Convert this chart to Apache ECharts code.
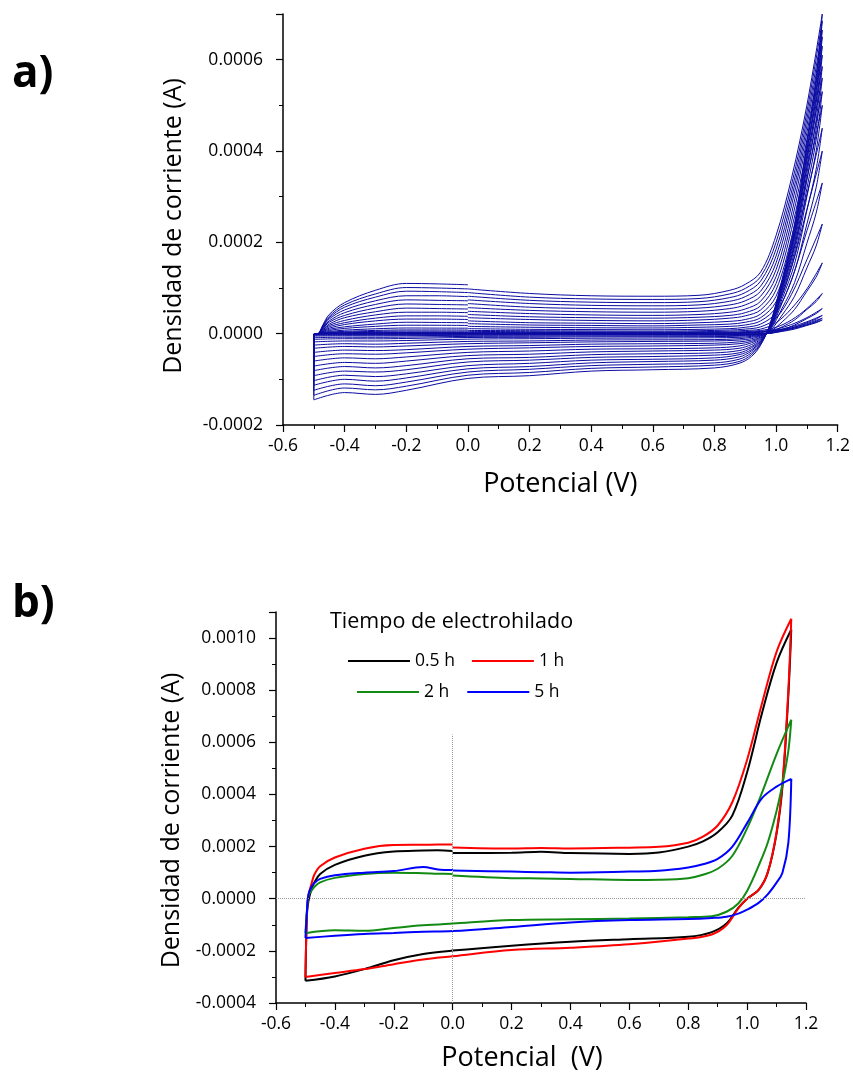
<!DOCTYPE html>
<html>
<head>
<meta charset="utf-8">
<script src="https://cdn.jsdelivr.net/npm/echarts@6.0.0/dist/echarts.min.js"></script>
<style>
  html, body { margin: 0; padding: 0; background: #fff; }
  #chart { width: 853px; height: 1073px; }
</style>
</head>
<body>
<div id="chart"></div>
<script>
// currents below are stored in microamps, the axes show amps
const UA = 1e-6;

// ---- a) consecutive cycles, each scan starts at 0 V ----
const aFwdX = [0, 0.2, 0.4, 0.6, 0.75, 0.85, 0.9, 0.95, 1.0, 1.05, 1.1, 1.15];
const aRevX = [1.15, 1.13, 1.1, 1.06, 1.02, 0.98, 0.95, 0.92, 0.88, 0.8, 0.6, 0.4, 0.2, 0, -0.2, -0.3, -0.4, -0.5];
const aLeftX = [-0.5, -0.499, -0.485, -0.47, -0.45, -0.4, -0.3, -0.2, -0.1, 0];

const aFwd = [
  [0.4, 0.3, 0.3, 0.2, 0.4, 0.7, 1.2, 2.5, 6, 11, 19, 30],
  [0.8, 0.6, 0.6, 0.5, 0.7, 1, 1.5, 3, 7, 13, 22, 34],
  [1.2, 1, 1, 0.8, 1, 1.5, 2, 4, 8, 15, 26, 40],
  [2, 1.6, 1.5, 1.3, 1.6, 2.2, 3, 5, 10, 20, 35, 55],
  [3, 2.7, 2.5, 2.3, 2.7, 3.5, 4.5, 7, 14, 30, 55, 88],
  [5, 4.3, 4, 3.7, 4.3, 5.5, 7, 10, 24, 55, 98, 155],
  [7, 6.5, 6, 5.5, 6.5, 8, 10, 15, 34, 86, 162, 240],
  [11, 9.5, 9, 8.5, 9.5, 11, 14, 21, 46, 118, 225, 330],
  [16, 14, 13, 12.5, 14, 16, 19, 28, 58, 145, 272, 400],
  [22, 19, 18, 17, 19, 21, 25, 35, 70, 168, 305, 450],
  [28, 24, 23, 22, 24, 27, 31, 43, 82, 190, 340, 500],
  [35, 31, 29, 28, 30, 34, 39, 52, 96, 210, 362, 530],
  [42, 37, 35, 34, 36, 40, 46, 61, 110, 228, 385, 560],
  [49, 44, 41, 40, 42, 47, 54, 71, 125, 245, 405, 585],
  [57, 51, 48, 47, 49, 55, 63, 82, 140, 262, 425, 610],
  [66, 58, 55, 54, 56, 63, 72, 93, 155, 280, 440, 630],
  [74, 66, 62, 61, 63, 71, 81, 104, 170, 295, 455, 650],
  [82, 73, 69, 68, 70, 79, 90, 115, 185, 310, 470, 665],
  [90, 80, 76, 75, 77, 87, 99, 125, 200, 325, 485, 685],
  [98, 88, 83, 82, 84, 95, 108, 135, 215, 340, 500, 700]
];

const aRev = [
  [30, 24, 18, 10, 5, 0.6, -0.2, -0.3, -0.4, -0.45, -0.5, -0.5, -0.55, -0.6, -0.75, -0.8, -0.8, -0.9],
  [34, 27, 20, 12, 6, 0.8, -0.3, -0.6, -0.8, -0.9, -1, -1, -1.1, -1.2, -1.5, -1.6, -1.6, -1.8],
  [40, 32, 24, 14, 7, 1, -0.6, -1.2, -1.6, -1.8, -1.9, -2, -2.2, -2.4, -3, -3.2, -3.1, -3.5],
  [55, 44, 33, 19, 9, 1.5, -1, -1.8, -2.4, -2.7, -2.9, -3, -3.4, -3.6, -4.5, -4.9, -4.7, -5.3],
  [88, 70, 53, 30, 15, 2.5, -1.5, -3, -4, -4.5, -4.8, -5, -5.6, -6, -7.5, -8, -7.8, -8.8],
  [155, 124, 93, 53, 26, 4, -2, -4, -5.5, -6.4, -6.7, -7, -8, -8.4, -10.5, -11.3, -11, -12.4],
  [240, 192, 144, 82, 41, 6, -3, -6, -8, -9, -9.5, -10, -11, -12, -15, -16, -16, -18],
  [330, 264, 198, 112, 56, 8, -4, -8, -11, -13, -13.5, -14, -16, -17, -21, -23, -22, -25],
  [400, 320, 240, 136, 68, 9, -5, -11, -14, -16, -17, -18, -20, -22, -27, -29, -28, -32],
  [450, 360, 270, 153, 77, 10, -7, -14, -18, -21, -22, -23, -26, -28, -35, -37, -36, -41],
  [500, 400, 300, 170, 85, 11, -8, -17, -22, -25, -27, -28, -31, -34, -42, -45, -44, -50],
  [530, 424, 318, 180, 90, 12, -10, -20, -27, -31, -33, -34, -38, -41, -51, -55, -53, -60],
  [560, 448, 336, 190, 95, 13, -12, -24, -32, -36, -38, -40, -45, -48, -60, -65, -63, -71],
  [585, 468, 351, 199, 99, 14, -14, -28, -37, -42, -44, -46, -52, -55, -70, -75, -72, -81],
  [610, 488, 366, 207, 104, 15, -16, -31, -42, -47, -50, -52, -58, -62, -79, -84, -82, -92],
  [630, 504, 378, 214, 107, 16, -17, -35, -46, -53, -56, -58, -65, -70, -88, -94, -91, -103],
  [650, 520, 390, 221, 110, 17, -19, -38, -51, -58, -61, -64, -72, -77, -97, -104, -100, -113],
  [665, 532, 399, 226, 113, 18, -21, -42, -56, -64, -67, -70, -78, -84, -106, -114, -110, -124],
  [685, 548, 411, 233, 116, 19, -23, -46, -61, -69, -73, -76, -85, -91, -115, -123, -119, -135],
  [700, 560, 420, 240, 120, 20, -25, -50, -65, -75, -79, -82, -92, -98, -124, -133, -129, -145]
];

const aLeft = [
  [-0.9, -0.1, 0, 0.1, 0.2, 0.3, 0.45, 0.5, 0.5, 0.5],
  [-1.8, -0.2, 0, 0.2, 0.35, 0.6, 0.8, 0.9, 0.9, 0.9],
  [-3.5, -0.3, 0, 0.25, 0.5, 0.8, 1.2, 1.3, 1.3, 1.3],
  [-5.3, -0.4, 0, 0.4, 0.9, 1.4, 2, 2.3, 2.2, 2.2],
  [-8.8, -0.5, 0, 0.6, 1.3, 2.1, 2.9, 3.4, 3.4, 3.3],
  [-12.4, -0.6, 0, 1, 2.1, 3.5, 4.9, 5.7, 5.6, 5.5],
  [-18, -0.8, 0, 1.5, 3.1, 5.1, 7.1, 8.2, 8.2, 8],
  [-25, -1, 0, 2.3, 4.7, 7.7, 10.7, 12.4, 12.2, 12],
  [-32, -1, 0, 3.4, 7, 11.5, 16, 18.5, 18.4, 18],
  [-41, -1.5, 0, 4.6, 9.4, 15, 21, 25, 24.5, 24],
  [-50, -1.5, 0, 6, 12, 20, 28, 32, 32, 31],
  [-60, -2, 0, 7, 15, 24, 34, 39, 39, 38],
  [-71, -2, 0, 9, 18, 29, 41, 47, 47, 46],
  [-81, -2.5, 0, 10, 21, 35, 48, 56, 55, 54],
  [-92, -2.5, 0, 12, 25, 40, 56, 65, 64, 63],
  [-103, -3, 0, 14, 28, 46, 64, 74, 73, 72],
  [-113, -3, 0, 15, 32, 52, 72, 83, 83, 81],
  [-124, -3.5, 0, 17, 35, 58, 80, 93, 92, 90],
  [-135, -4, 0, 18, 38, 63, 87, 101, 100, 98],
  [-145, -4, 0, 20, 42, 68, 95, 110, 109, 107]
];

// ---- b) one cycle per electrospinning time ----
const bNames = ['0.5 h', '1 h', '2 h', '5 h'];
const bColors = ['#000000', '#ff0000', '#138a13', '#0000ff'];
const bFwdX = [0, 0.2, 0.3, 0.4, 0.6, 0.7, 0.8, 0.85, 0.9, 0.95, 1.0, 1.05, 1.1, 1.15];
const bRevX = [1.15, 1.14, 1.12, 1.1, 1.07, 1.04, 1.0, 0.97, 0.93, 0.88, 0.8, 0.6, 0.4, 0.2, 0, -0.1, -0.2, -0.3, -0.4, -0.5];
const bLeftX = [-0.5, -0.495, -0.49, -0.48, -0.47, -0.45, -0.4, -0.3, -0.2, -0.1, -0.05, 0];

const bFwd = [
  [175, 176, 180, 175, 172, 177, 200, 220, 255, 320, 485, 710, 905, 1033],
  [197, 193, 195, 193, 196, 199, 215, 238, 281, 371, 533, 747, 947, 1074],
  [89, 79, 78, 76, 72, 73, 79, 92, 115, 165, 270, 405, 555, 687],
  [108, 104, 102, 100, 104, 107, 120, 132, 153, 200, 290, 385, 430, 460]
];
const bRev = [
  [1033, 780, 430, 250, 100, 35, 0, -35, -95, -128, -146, -155, -165, -180, -199, -212, -236, -270, -298, -315],
  [1074, 800, 440, 255, 100, 35, 0, -37, -102, -137, -153, -175, -188, -197, -221, -233, -251, -270, -285, -300],
  [687, 567, 440, 337, 215, 129, 30, -18, -50, -67, -71, -76, -79, -82, -95, -102, -112, -123, -121, -132],
  [460, 214, 100, 62, 17, -15, -42, -57, -69, -74, -78, -82, -91, -108, -124, -127, -131, -135, -142, -151]
];
const bLeft = [
  [-315, -60, -10, 35, 62, 95, 130, 165, 181, 185, 186, 183],
  [-300, -60, 12, 55, 92, 125, 158, 192, 206, 207, 208, 208],
  [-132, -45, 10, 30, 45, 63, 80, 95, 100, 98, 96, 95],
  [-151, -50, 15, 45, 60, 76, 90, 100, 106, 122, 112, 110]
];

const FONT = "'Open Sans', sans-serif";

// forward part, reverse part, then the return to 0 V; breaks at the turning points
function loop(fwdX, fwd, revX, rev, leftX, left) {
  const pts = fwdX.map((x, i) => [x, fwd[i] * UA]);
  pts.push([fwdX[fwdX.length - 1], '-']);
  revX.forEach((x, i) => pts.push([x, rev[i] * UA]));
  pts.push([revX[revX.length - 1], '-']);
  leftX.forEach((x, i) => pts.push([x, left[i] * UA]));
  return pts;
}

function axisBase(idx) {
  return {
    gridIndex: idx,
    type: 'value',
    axisLine: { show: true, onZero: false, lineStyle: { color: '#000', width: 1.5 } },
    axisTick: { show: true, length: 7, lineStyle: { color: '#000', width: 1.2 } },
    minorTick: { show: true, splitNumber: 2, length: 4, lineStyle: { color: '#000', width: 1 } },
    splitLine: { show: false },
    minorSplitLine: { show: false },
    nameLocation: 'middle'
  };
}

const series = [];
aFwd.forEach((f, k) => {
  series.push({
    type: 'line',
    xAxisIndex: 0,
    yAxisIndex: 0,
    data: loop(aFwdX, f, aRevX, aRev[k], aLeftX, aLeft[k]),
    showSymbol: false,
    symbol: 'none',
    smooth: 0.35,
    silent: true,
    lineStyle: { color: '#0b0ba2', width: 1 }
  });
});

bNames.forEach((name, i) => {
  const s = {
    name: name,
    type: 'line',
    xAxisIndex: 1,
    yAxisIndex: 1,
    data: loop(bFwdX, bFwd[i], bRevX, bRev[i], bLeftX, bLeft[i]),
    showSymbol: false,
    symbol: 'none',
    smooth: 0.35,
    silent: true,
    itemStyle: { color: bColors[i] },
    lineStyle: { color: bColors[i], width: 2 }
  };
  if (i === 0) {
    s.markLine = {
      silent: true,
      symbol: 'none',
      label: { show: false },
      lineStyle: { type: 'dotted', color: '#9a9a9a', width: 1 },
      data: [
        { yAxis: 0 },
        [{ coord: [0, -0.0004] }, { coord: [0, 0.00063] }]
      ]
    };
  }
  series.push(s);
});

const chart = echarts.init(document.getElementById('chart'));
chart.setOption({
  animation: false,
  backgroundColor: '#fff',
  title: [
    { text: 'a)', left: 12, top: 52, padding: 0,
      textStyle: { fontFamily: FONT, fontSize: 44, fontWeight: 'bold', color: '#000' } },
    { text: 'b)', left: 12, top: 582, padding: 0,
      textStyle: { fontFamily: FONT, fontSize: 44, fontWeight: 'bold', color: '#000' } },
    { text: 'Tiempo de electrohilado', left: 330, top: 611, padding: 0,
      textStyle: { fontFamily: FONT, fontSize: 21.5, fontWeight: 'normal', color: '#000' } }
  ],
  legend: [
    { data: ['0.5 h', '1 h'], left: 348, top: 652, icon: 'rect', itemWidth: 62, itemHeight: 2,
      itemGap: 17, padding: 0, selectedMode: false,
      textStyle: { fontFamily: FONT, fontSize: 17.5, color: '#000' } },
    { data: ['2 h', '5 h'], left: 357, top: 683, icon: 'rect', itemWidth: 62, itemHeight: 2,
      itemGap: 18, padding: 0, selectedMode: false,
      textStyle: { fontFamily: FONT, fontSize: 17.5, color: '#000' } }
  ],
  grid: [
    { left: 283, top: 14, width: 555, height: 411 },
    { left: 276, top: 612, width: 530, height: 394 }
  ],
  xAxis: [
    Object.assign(axisBase(0), {
      min: -0.6, max: 1.2, interval: 0.2,
      name: 'Potencial (V)', nameGap: 46,
      nameTextStyle: { fontFamily: FONT, fontSize: 27, color: '#000' },
      axisLabel: { color: '#000', fontFamily: FONT, fontSize: 17.5, margin: 12,
        formatter: v => v.toFixed(1) }
    }),
    Object.assign(axisBase(1), {
      min: -0.6, max: 1.2, interval: 0.2,
      name: 'Potencial  (V)', nameGap: 42,
      nameTextStyle: { fontFamily: FONT, fontSize: 27, color: '#000', padding: [0, 38, 0, 0] },
      axisLabel: { color: '#000', fontFamily: FONT, fontSize: 17.5, margin: 12,
        formatter: v => v.toFixed(1) }
    })
  ],
  yAxis: [
    Object.assign(axisBase(0), {
      min: -0.0002, max: 0.0007, interval: 0.0002,
      name: 'Densidad de corriente (A)', nameGap: 97, nameRotate: 90,
      nameTextStyle: { fontFamily: FONT, fontSize: 25, color: '#000', padding: [0, 13, 0, 0] },
      axisLabel: { color: '#000', fontFamily: FONT, fontSize: 17.5, margin: 20, showMaxLabel: false,
        formatter: v => v.toFixed(4) }
    }),
    Object.assign(axisBase(1), {
      min: -0.0004, max: 0.0011, interval: 0.0002,
      name: 'Densidad de corriente (A)', nameGap: 90, nameRotate: 90,
      nameTextStyle: { fontFamily: FONT, fontSize: 25, color: '#000', padding: [0, 26, 0, 0] },
      axisLabel: { color: '#000', fontFamily: FONT, fontSize: 17.5, margin: 20, showMaxLabel: false,
        formatter: v => v.toFixed(4) }
    })
  ],
  series: series
});
</script>
</body>
</html>
